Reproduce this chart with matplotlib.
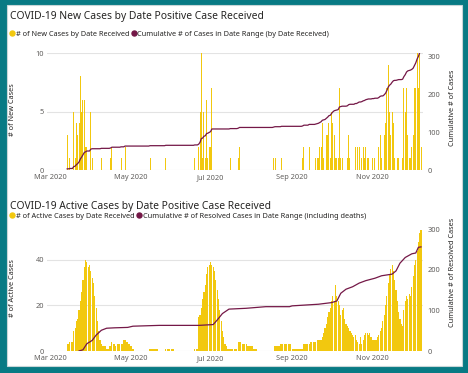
import matplotlib
matplotlib.use('Agg')
import matplotlib.pyplot as plt
import matplotlib.dates as mdates
from matplotlib.lines import Line2D
from matplotlib.patches import Rectangle
import pandas as pd

plt.rcParams['font.family'] = ['Noto Sans', 'DejaVu Sans']

TEAL = '#087A84'
YELLOW = '#F2C80F'
MAROON = '#741847'
TITLE_C = '#252423'
TICK_C = '#605E5C'
GRID_C = '#E3E3E3'

# new cases per day (days not listed had none)
new_case_dates = [
    '3/14', '3/16', '3/19', '3/20', '3/21', '3/22', '3/23', '3/24', '3/25', '3/26',
    '3/27', '3/28', '3/29', '4/1', '4/2', '4/9', '4/16', '4/17', '4/24', '4/27',
    '5/16', '5/28', '6/19', '6/22', '6/23', '6/24', '6/25', '6/26', '6/27', '6/28',
    '6/29', '6/30', '7/1', '7/2', '7/16', '7/22', '7/23', '8/18', '8/19', '8/24',
    '9/9', '9/10', '9/14', '9/19', '9/20', '9/21', '9/22', '9/23', '9/24', '9/25',
    '9/26', '9/27', '9/28', '9/29', '9/30', '10/1', '10/2', '10/3', '10/4', '10/5',
    '10/6', '10/7', '10/8', '10/9', '10/13', '10/14', '10/15', '10/19', '10/21', '10/22',
    '10/24', '10/25', '10/26', '10/27', '10/28', '10/29', '11/1', '11/3', '11/6', '11/7',
    '11/8', '11/10', '11/11', '11/12', '11/13', '11/14', '11/15', '11/16', '11/17', '11/18',
    '11/20', '11/21', '11/24', '11/25', '11/26', '11/27', '11/28', '11/29', '11/30', '12/1',
    '12/2', '12/3', '12/4', '12/5', '12/6', '12/7', '12/8',
]
new_case_counts = [
    3, 1, 5, 1, 4, 3, 4, 8, 5, 6,
    6, 2, 2, 5, 1, 1, 1, 2, 1, 2,
    1, 1, 1, 2, 5, 10, 1, 5, 1, 6,
    1, 2, 2, 7, 1, 1, 2, 1, 1, 1,
    1, 2, 2, 1, 1, 1, 2, 2, 4, 1,
    1, 3, 3, 4, 1, 5, 4, 3, 1, 1,
    1, 7, 1, 1, 1, 3, 1, 2, 2, 2,
    1, 2, 1, 2, 1, 1, 1, 1, 2, 3,
    1, 3, 4, 7, 9, 5, 3, 5, 4, 1,
    1, 1, 1, 7, 5, 7, 3, 1, 1, 2,
    3, 7, 7, 10, 7, 10, 2,
]

# active cases per day, 14 Mar .. 8 Dec
active_cases = [
    3, 3, 4, 4, 4, 9, 10, 13, 14, 18,
    22, 26, 31, 37, 40, 39, 37, 38, 35, 32,
    30, 24, 19, 13, 9, 5, 3, 2, 2, 2,
    1, 1, 2, 2, 4, 3, 3, 2, 3, 3,
    3, 3, 3, 5, 5, 4, 4, 3, 2, 2,
    1, 0, 0, 0, 0, 0, 0, 0, 0, 0,
    0, 0, 0, 1, 1, 1, 1, 1, 1, 1,
    0, 0, 0, 0, 0, 1, 1, 1, 1, 1,
    1, 1, 0, 0, 0, 0, 0, 0, 0, 0,
    0, 0, 0, 0, 0, 0, 0, 1, 1, 1,
    15, 16, 19, 23, 26, 29, 34, 37, 38, 39,
    38, 37, 35, 31, 27, 23, 18, 13, 9, 6,
    3, 2, 1, 1, 1, 1, 1, 1, 1, 1,
    4, 4, 4, 3, 3, 3, 3, 2, 2, 2,
    2, 2, 1, 1, 1, 0, 0, 0, 0, 0,
    0, 0, 0, 0, 0, 0, 0, 0, 2, 2,
    2, 2, 3, 3, 3, 3, 3, 3, 3, 3,
    3, 1, 1, 1, 1, 1, 1, 1, 1, 1,
    3, 3, 3, 3, 3, 4, 4, 4, 4, 4,
    5, 5, 5, 5, 6, 8, 10, 12, 15, 17,
    19, 22, 24, 22, 29, 24, 22, 20, 16, 18,
    19, 14, 12, 11, 10, 9, 8, 7, 6, 7,
    5, 4, 3, 6, 3, 5, 7, 8, 8, 7,
    8, 6, 5, 5, 5, 5, 6, 7, 9, 10,
    13, 16, 20, 24, 30, 34, 36, 38, 35, 31,
    27, 22, 17, 14, 12, 11, 18, 22, 24, 23,
    25, 24, 28, 33, 38, 40, 44, 48, 52, 53,
]

# cumulative resolved cases (including deaths)
resolved_dates = [
    '3/23', '3/26', '3/29', '4/2', '4/5', '4/9', '4/13', '4/19', '4/29', '5/3',
    '5/23', '6/22', '7/3', '7/6', '7/10', '7/15', '7/28', '8/12', '8/30', '9/1',
    '9/21', '10/1', '10/5', '10/8', '10/12', '10/17', '10/22', '10/27', '11/3', '11/8',
    '11/16', '11/19', '11/22', '11/26', '12/1', '12/4', '12/6', '12/8',
]
resolved_totals = [
    0, 3, 18, 26, 39, 51, 56, 57, 58, 61,
    63, 63, 65, 76, 92, 103, 105, 109, 109, 111,
    115, 119, 123, 142, 152, 158, 167, 173, 179, 185,
    189, 197, 216, 230, 239, 241, 255, 256,
]

month_ticks = ['2020-03-01', '2020-05-01', '2020-07-01', '2020-09-01', '2020-11-01']

days = pd.date_range('2020-03-14', '2020-12-08', freq='D')
new_cases = pd.Series(new_case_counts,
                      index=pd.to_datetime(['2020/' + d for d in new_case_dates])
                      ).reindex(days, fill_value=0)
cum_cases = new_cases.cumsum()
res_idx = pd.to_datetime(['2020/' + d for d in resolved_dates])

W, H = 468, 373
fig = plt.figure(figsize=(W / 100, H / 100), dpi=100, facecolor=TEAL)
fig.patches.append(Rectangle((7 / W, 1 - 366 / H), 455 / W, 361 / H,
                             transform=fig.transFigure, facecolor='white',
                             edgecolor='#C8D6D8', linewidth=0.8, zorder=-5))

xlo = pd.Timestamp('2020-02-27 16:00')
xhi = pd.Timestamp('2020-12-09 12:00')
FS = 5.3


def style(ax, ax2, yticks, rticks):
    ax.set_facecolor('none')
    for a in (ax, ax2):
        for s in a.spines.values():
            s.set_visible(False)
        a.tick_params(length=0, labelsize=FS, labelcolor=TICK_C)
    ax.tick_params(axis='y', pad=2)
    ax2.tick_params(axis='y', pad=3)
    ax.tick_params(axis='x', pad=3)
    ax.set_yticks(yticks)
    ax2.set_yticks(rticks)
    ax.yaxis.grid(True, color=GRID_C, linewidth=0.8)
    ax.set_axisbelow(True)
    ax.set_xlim(xlo, xhi)
    ax.set_xticks(pd.to_datetime(month_ticks))
    ax.xaxis.set_major_formatter(mdates.DateFormatter('%b %Y'))


def legend(y, labels):
    handles = [Line2D([], [], marker='o', linestyle='none', markersize=3.6,
                      markerfacecolor=c, markeredgecolor=c) for c in (YELLOW, MAROON)]
    fig.legend(handles, labels, loc='center left', bbox_to_anchor=(10 / W, 1 - y / H),
               ncol=2, frameon=False, fontsize=FS, handlelength=0.6,
               handletextpad=0.15, columnspacing=0.4, borderpad=0, borderaxespad=0,
               labelcolor=TITLE_C)


# ---- top chart
ax = fig.add_axes([47 / W, 1 - 170 / H, 376 / W, 117 / H])
ax2 = ax.twinx()
ax.bar(days, new_cases.values, width=0.75, color=YELLOW)
ax2.plot(days, cum_cases.values, color=MAROON, linewidth=0.9)
ax.set_ylim(0, 10)
ax2.set_ylim(0, 308)
style(ax, ax2, [0, 5, 10], [0, 100, 200, 300])
fig.text(10 / W, 1 - 17 / H, 'COVID-19 New Cases by Date Positive Case Received',
         fontsize=7.4, color=TITLE_C, va='center', ha='left')
legend(34, ['# of New Cases by Date Received',
            'Cumulative # of Cases in Date Range (by Date Received)'])
fig.text(13 / W, 1 - 110 / H, '# of New Cases', rotation=90, fontsize=FS,
         color=TITLE_C, ha='center', va='center')
fig.text(453 / W, 1 - 108 / H, 'Cumulative # of Cases', rotation=90, fontsize=FS,
         color=TITLE_C, ha='center', va='center')

# ---- bottom chart
bx = fig.add_axes([47 / W, 1 - 351 / H, 376 / W, 122 / H])
bx2 = bx.twinx()
bx.bar(days, active_cases, width=0.85, color=YELLOW)
bx2.plot(res_idx, resolved_totals, color=MAROON, linewidth=0.9)
bx.set_ylim(0, 53.6)
bx2.set_ylim(0, 300)
style(bx, bx2, [0, 20, 40], [0, 100, 200, 300])
fig.text(10 / W, 1 - 207 / H, 'COVID-19 Active Cases by Date Positive Case Received',
         fontsize=7.4, color=TITLE_C, va='center', ha='left')
legend(216, ['# of Active Cases by Date Received',
             'Cumulative # of Resolved Cases in Date Range (including deaths)'])
fig.text(13 / W, 1 - 288 / H, '# of Active Cases', rotation=90, fontsize=FS,
         color=TITLE_C, ha='center', va='center')
fig.text(453 / W, 1 - 272 / H, 'Cumulative # of Resolved Cases', rotation=90, fontsize=FS,
         color=TITLE_C, ha='center', va='center')

fig.savefig('out.png', dpi=100, facecolor=TEAL)
